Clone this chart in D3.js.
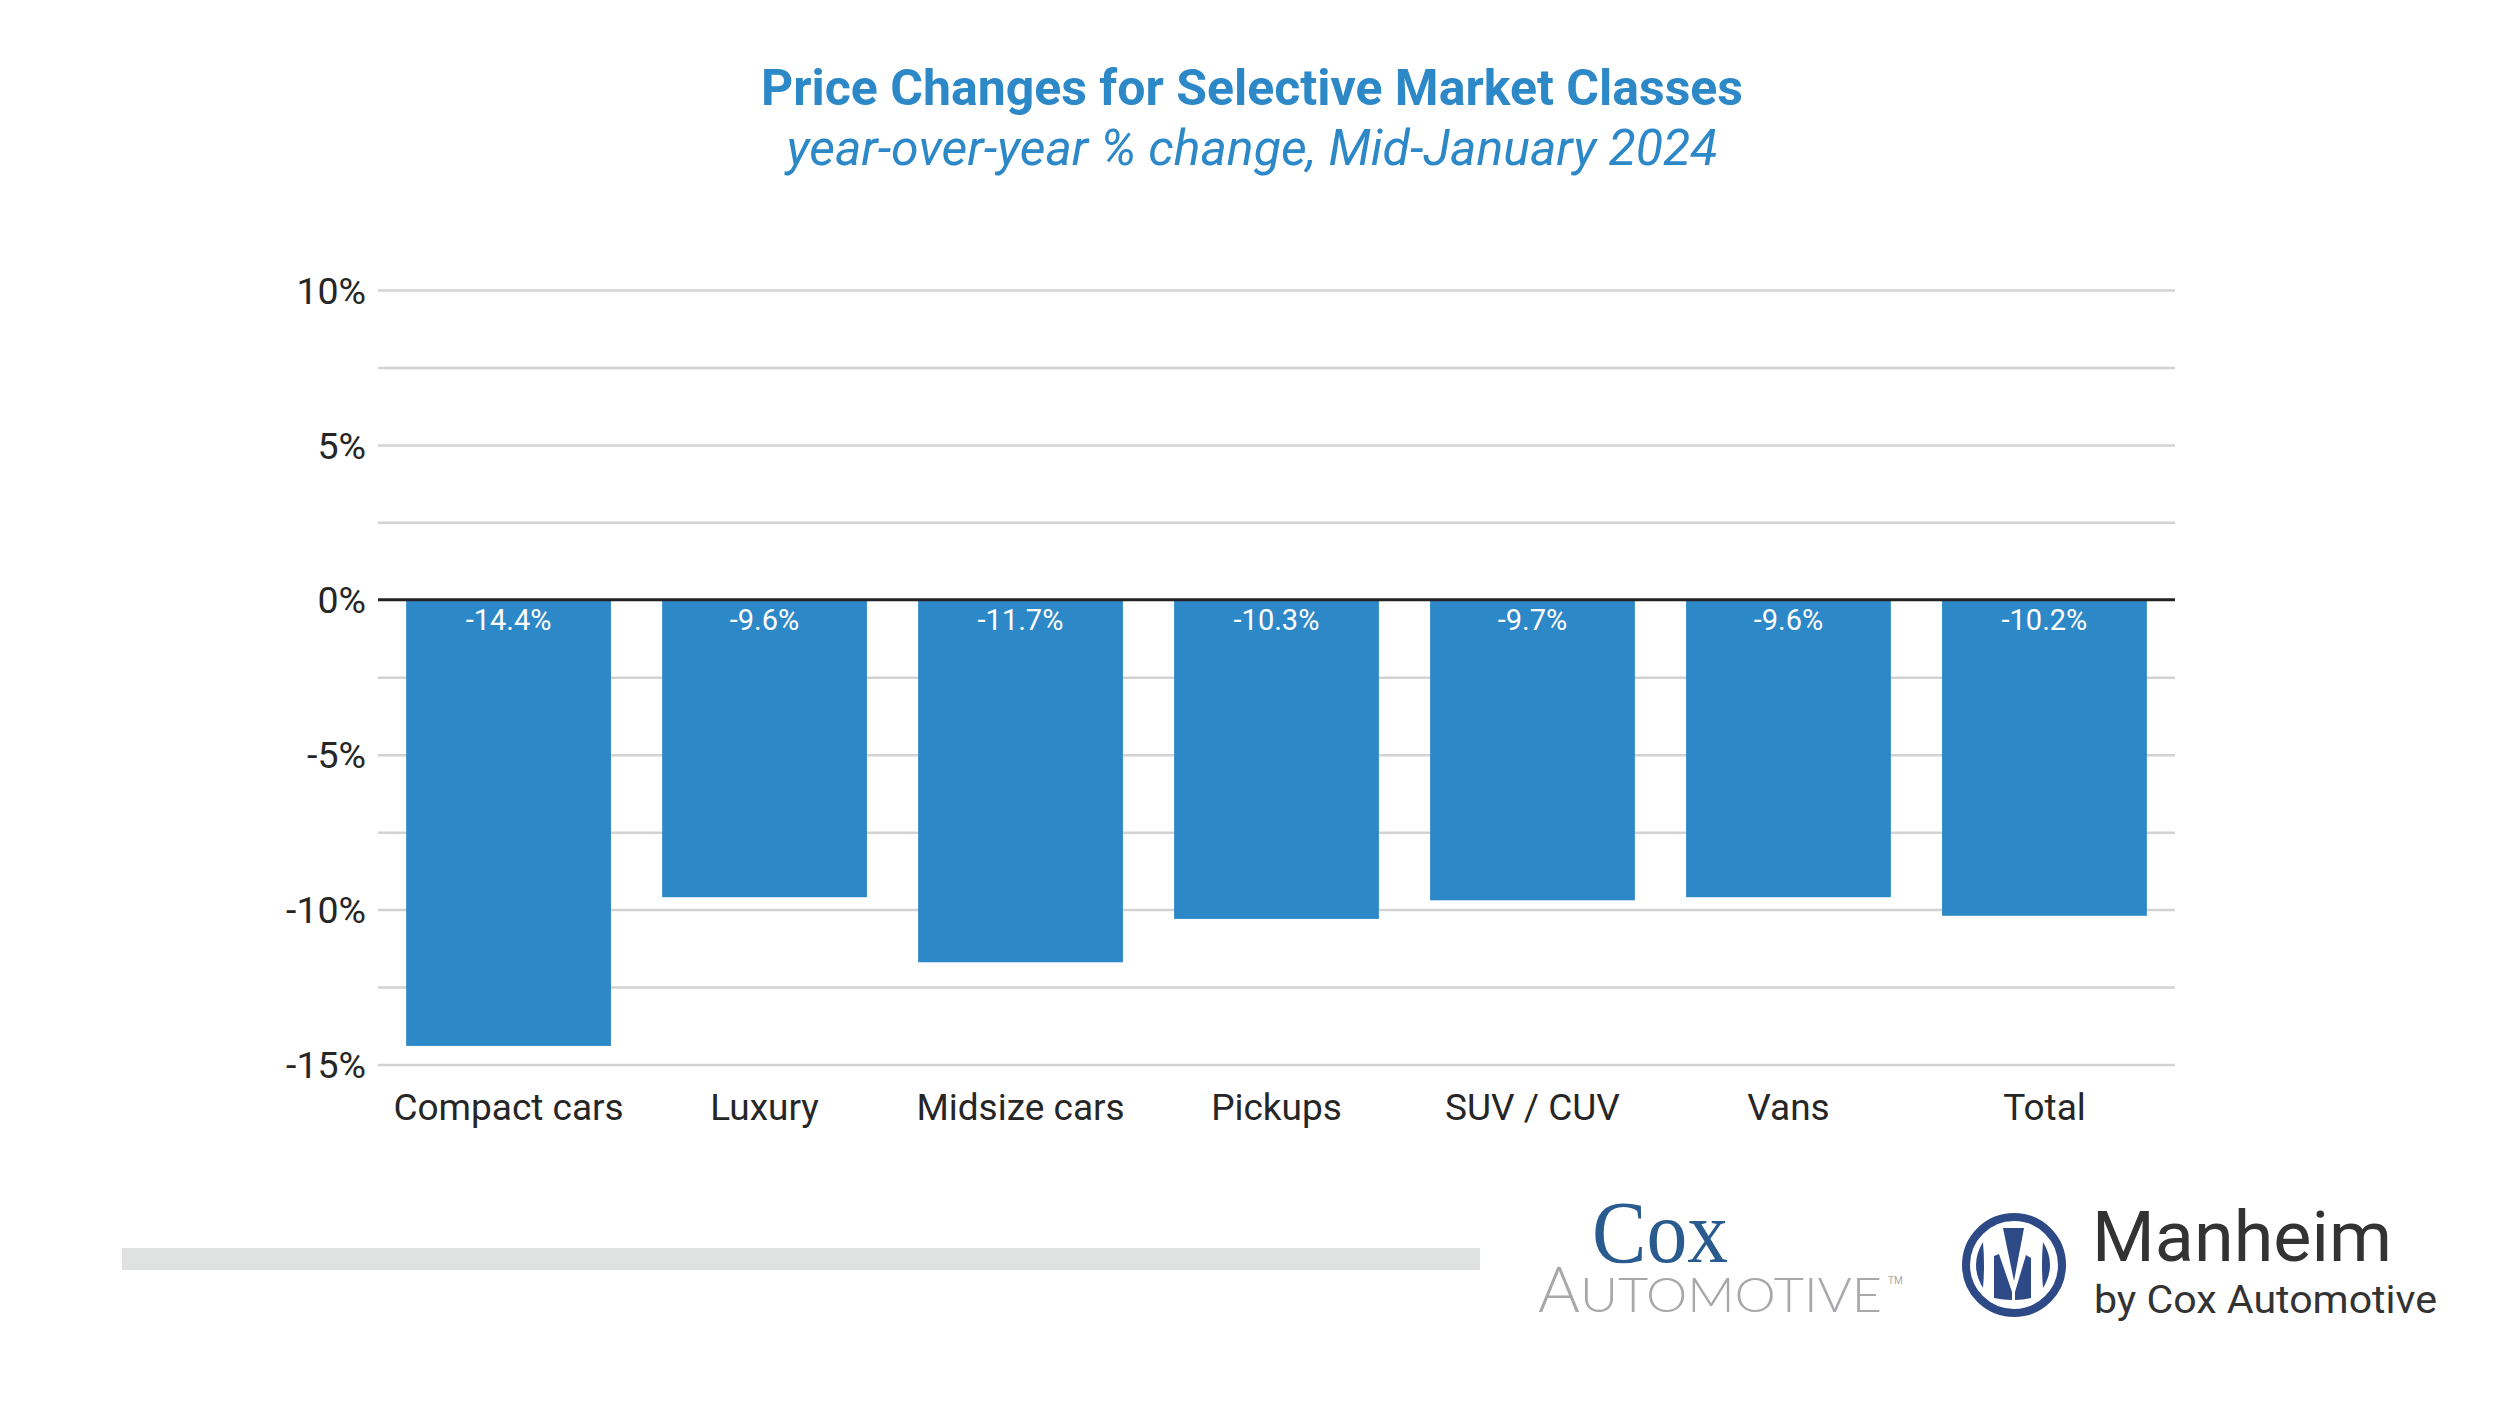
<!DOCTYPE html>
<html>
<head>
<meta charset="utf-8">
<script src="https://cdn.jsdelivr.net/npm/d3@7"></script>
<style>
  html, body { margin: 0; padding: 0; background: #ffffff; }
  svg { display: block; font-family: Roboto, "Noto Sans", sans-serif; }
</style>
</head>
<body>
<svg id="chart" width="2500" height="1406"></svg>
<script>
// ---- data ----
const categories = ["Compact cars", "Luxury", "Midsize cars", "Pickups", "SUV / CUV", "Vans", "Total"];
const values = [-14.4, -9.6, -11.7, -10.3, -9.7, -9.6, -10.2];
const yTickValues = [-15, -10, -5, 0, 5, 10];
const gridValues = [-15, -12.5, -10, -7.5, -5, -2.5, 2.5, 5, 7.5, 10];
const titleText = "Price Changes for Selective Market Classes";
const subtitleText = "year-over-year % change, Mid-January 2024";

// ---- layout ----
const W = 2500, H = 1406;
const plot = { left: 378, right: 2175, top: 290, bottom: 1064.5 };
const blue = "#2d88c7";

const svg = d3.select("#chart");
svg.append("rect").attr("width", W).attr("height", H).attr("fill", "#fff");

const x = d3.scaleBand().domain(categories).range([plot.left, plot.right])
  .paddingInner(0.2).paddingOuter(0.11);
const y = d3.scaleLinear().domain([-15, 10]).range([plot.bottom, plot.top]);

// title
svg.append("text").attr("x", 1252).attr("y", 105).attr("text-anchor", "middle")
  .attr("font-size", 50).attr("font-weight", 700).attr("fill", blue).text(titleText);
svg.append("text").attr("x", 1252).attr("y", 165).attr("text-anchor", "middle")
  .attr("font-size", 50).attr("font-style", "italic").attr("fill", blue).text(subtitleText);

// gridlines
const grid = svg.append("g").attr("transform", `translate(${plot.left},0)`)
  .call(d3.axisLeft(y).tickValues(gridValues).tickSize(-(plot.right - plot.left)).tickFormat(""));
grid.select(".domain").remove();
grid.selectAll(".tick line").attr("stroke", "#d2d2d2").attr("stroke-width", 2.5);

// y axis labels
const yAxis = svg.append("g").attr("transform", `translate(${plot.left - 12},0)`)
  .call(d3.axisLeft(y).tickValues(yTickValues).tickSize(0).tickFormat(d => d + "%"));
yAxis.select(".domain").remove();
yAxis.selectAll("text").attr("font-size", 37.5).attr("fill", "#262626")
  .attr("font-family", "Roboto, sans-serif").attr("x", 0).attr("dy", "0.35em");

// bars
svg.append("g").selectAll("rect").data(categories).join("rect")
  .attr("x", d => x(d))
  .attr("width", x.bandwidth())
  .attr("y", (d, i) => y(Math.max(0, values[i])))
  .attr("height", (d, i) => Math.abs(y(values[i]) - y(0)))
  .attr("fill", blue);

// zero line
svg.append("line").attr("x1", plot.left).attr("x2", plot.right)
  .attr("y1", y(0)).attr("y2", y(0)).attr("stroke", "#222").attr("stroke-width", 3);

// value labels
svg.append("g").selectAll("text").data(categories).join("text")
  .attr("x", d => x(d) + x.bandwidth() / 2)
  .attr("y", y(0) + 30)
  .attr("text-anchor", "middle").attr("font-size", 29).attr("fill", "#fff")
  .text((d, i) => values[i].toFixed(1) + "%");

// x axis labels
const xAxis = svg.append("g").attr("transform", `translate(0,${plot.bottom})`)
  .call(d3.axisBottom(x).tickSize(0));
xAxis.select(".domain").remove();
xAxis.selectAll("text").attr("font-size", 37).attr("fill", "#262626")
  .attr("font-family", "Roboto, sans-serif").attr("y", 29).attr("dy", "0.71em");

// footer bar
svg.append("rect").attr("x", 122).attr("y", 1248).attr("width", 1358).attr("height", 22).attr("fill", "#e0e2e1");

// Cox Automotive logo (text)
svg.append("text").attr("x", 1592).attr("y", 1262)
  .attr("font-family", "'Liberation Serif', serif").attr("font-size", 88).attr("fill", "#2a5b8e")
  .attr("textLength", 136).attr("lengthAdjust", "spacingAndGlyphs").text("Cox");
const auto = svg.append("text").attr("x", 1538).attr("y", 1312)
  .attr("font-family", "Lato, 'Open Sans', sans-serif").attr("font-weight", 300).attr("fill", "#a6a8ab");
auto.append("tspan").attr("font-size", 64).text("A");
auto.append("tspan").attr("font-size", 48).attr("textLength", 302).attr("lengthAdjust", "spacingAndGlyphs").text("UTOMOTIVE");
svg.append("text").attr("x", 1888).attr("y", 1284).attr("font-size", 10).attr("fill", "#a6a8ab").text("TM");

// Manheim logo
const navy = "#2e4a86";
const mg = svg.append("g").attr("transform", "translate(2014,1265)");
mg.append("circle").attr("r", 48).attr("fill", "#fff").attr("stroke", navy).attr("stroke-width", 8);
mg.append("path").attr("d", "M-31,-23 Q-45,0 -31,23 Q-29,0 -31,-23 Z").attr("fill", navy);
mg.append("path").attr("d", "M29,-23 Q43,0 29,23 Q27,0 29,-23 Z").attr("fill", navy);
mg.append("path").attr("d", "M-11,-37 L10,-37 L0,16 Z").attr("fill", navy);
mg.append("path").attr("d", "M-20,-9 L-15,-11 L-2,27 L-2,35 Q-11,35 -20,33 Z").attr("fill", navy);
mg.append("path").attr("d", "M17,-7 L12,-10 L1,27 L1,35 Q9,35 17,33 Z").attr("fill", navy);

svg.append("text").attr("x", 2092).attr("y", 1261).attr("font-size", 71).attr("fill", "#333")
  .attr("textLength", 300).attr("lengthAdjust", "spacingAndGlyphs").text("Manheim");
svg.append("text").attr("x", 2094).attr("y", 1313).attr("font-size", 38).attr("fill", "#333")
  .attr("textLength", 343).attr("lengthAdjust", "spacingAndGlyphs").text("by Cox Automotive");
</script>
</body>
</html>
